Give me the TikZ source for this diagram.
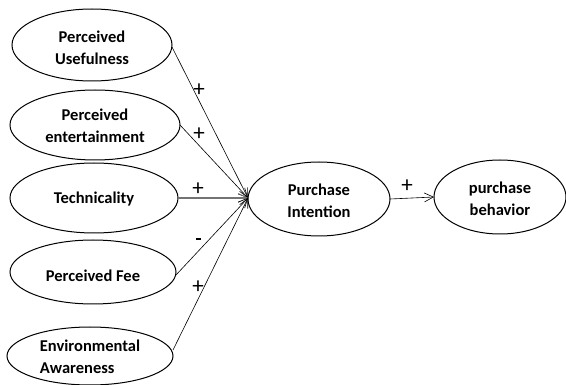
\documentclass[tikz,border=0pt]{standalone}
\usepackage{fontspec}
\setmainfont{Carlito}
\usetikzlibrary{shapes.geometric,arrows.meta}
\begin{document}
\begin{tikzpicture}[x=1pt,y=-1pt,
  outline/.style={line width=1pt},
  path arrow/.style={line width=0.6pt,-{Straight Barb[length=9pt,width=9pt,line width=0.6pt]}},
  sign/.style={font=\fontsize{23}{23}\selectfont},
  ctext/.style={font=\bfseries\fontsize{16.5}{22.5}\selectfont,align=center}]
\useasboundingbox (0,0) rectangle (566,385);
% predictor constructs
\draw[outline] (92,45) ellipse [x radius=80, y radius=36];
\node[ctext] (pu) at (92,48) {Perceived\\Usefulness};
\coordinate (puE) at (172,47);
\draw[outline] (95,125) ellipse [x radius=85, y radius=35];
\node[ctext] (pe) at (95,126) {Perceived\\entertainment};
\coordinate (peE) at (180,125);
\draw[outline] (94,198) ellipse [x radius=84, y radius=35];
\node[ctext] (te) at (94,199) {Technicality};
\coordinate (teE) at (178,198);
\draw[outline] (93,272) ellipse [x radius=83, y radius=32];
\node[ctext] (pf) at (93,276) {Perceived Fee};
\coordinate (pfE) at (176,275);
\draw[outline] (90,356) ellipse [x radius=83, y radius=29];
\node[ctext,align=left] (ea) at (90,357) {Environmental\\Awareness};
\coordinate (eaE) at (173,350);
% outcome constructs
\draw[outline] (319,199) ellipse [x radius=71, y radius=37];
\node[ctext] (pi) at (319,201) {Purchase\\Intention};
\coordinate (piW) at (248,198);
\coordinate (piE) at (390,199);
\draw[outline] (500,197) ellipse [x radius=66, y radius=37];
\node[ctext] (pb) at (500,199) {purchase\\behavior};
\coordinate (pbW) at (434,197);
% paths
\draw[path arrow] (puE) -- (piW);
\draw[path arrow] (peE) -- (piW);
\draw[path arrow,line width=1.3pt,draw=black!55] (teE) -- (piW);
\draw[path arrow] (pfE) -- (piW);
\draw[path arrow] (eaE) -- (piW);
\draw[path arrow] (piE) -- (pbW);
% path signs
\node[sign] (s1) at (199,90) {+};
\node[sign] (s2) at (199,134) {+};
\node[sign] (s3) at (198,189) {+};
\node[sign] (s4) at (198,239) {\rule{5pt}{2pt}};
\node[sign] (s5) at (198,287) {+};
\node[sign] (s6) at (407,186) {+};
\end{tikzpicture}
\end{document}
